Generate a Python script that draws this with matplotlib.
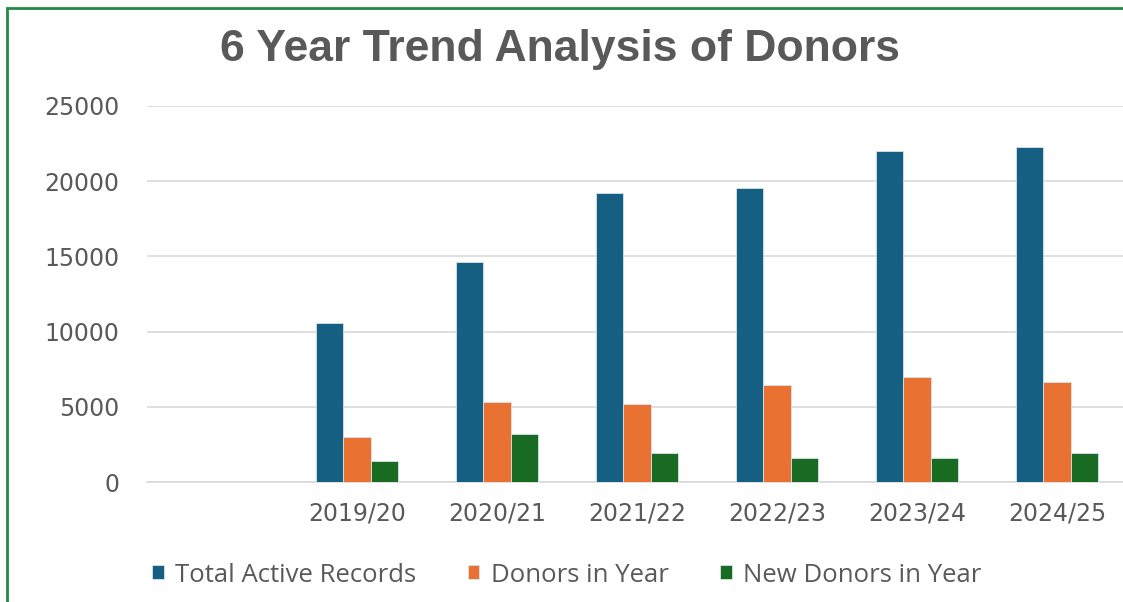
import matplotlib
matplotlib.use("Agg")
import matplotlib.pyplot as plt
from matplotlib.patches import Rectangle
import numpy as np

categories = ["", "2019/20", "2020/21", "2021/22", "2022/23", "2023/24", "2024/25"]
total_active = [0, 10560, 14610, 19240, 19570, 22040, 22290]
donors_in_year = [0, 2970, 5340, 5210, 6450, 6980, 6650]
new_donors = [0, 1375, 3190, 1950, 1575, 1575, 1930]
series_names = ["Total Active Records", "Donors in Year", "New Donors in Year"]
colors = ["#156082", "#E97132", "#196B24"]
yticks = [0, 5000, 10000, 15000, 20000, 25000]

W, H = 1123, 602
fig = plt.figure(figsize=(W / 100, H / 100), dpi=100)
fig.patch.set_facecolor("white")

# green frame (left and top edges visible)
fig.patches.append(Rectangle((7 / W, -0.05), 1.2, 1 - 8 / H + 0.05, transform=fig.transFigure,
                             fill=False, edgecolor="#1E8C45", linewidth=2, zorder=10))

ax = fig.add_axes([147 / W, (H - 482) / H, 980 / W, 376 / H])
x = np.arange(len(categories))
bw = 0.193
data = [total_active, donors_in_year, new_donors]
for i, (vals, c, n) in enumerate(zip(data, colors, series_names)):
    vals_plot = [v if v else np.nan for v in vals]
    ax.bar(x + (i - 1) * bw, vals_plot, width=bw, color=c, label=n,
           edgecolor="#d6e3ea", linewidth=0.6, zorder=3)

ax.set_xlim(-0.5, len(categories) - 0.5)
ax.set_ylim(0, 25000)
ax.set_yticks(yticks)
ax.set_yticklabels([str(t) for t in yticks])
ax.set_xticks(x)
ax.set_xticklabels(categories)
ax.yaxis.grid(True, color="#d9d9d9", linewidth=1.2, zorder=0)
ax.set_axisbelow(True)
for s in ["left", "right", "top"]:
    ax.spines[s].set_visible(False)
ax.spines["bottom"].set_color("#d9d9d9")
ax.spines["bottom"].set_linewidth(1.2)
ax.tick_params(axis="both", length=0, labelsize=17, labelcolor="#595959", colors="#595959")
ax.tick_params(axis="y", pad=20)
ax.tick_params(axis="x", pad=14)

fig.text(560 / W, 1 - 50 / H, "6 Year Trend Analysis of Donors", ha="center", va="center",
         fontsize=32, fontweight="bold", color="#595959", family="Liberation Sans")

handles, labels = ax.get_legend_handles_labels()
leg = fig.legend(handles, labels, loc="center", bbox_to_anchor=(567 / W, 1 - 575 / H), ncol=3,
                 frameon=False, handlelength=0.45, handleheight=0.45,
                 handletextpad=0.45, columnspacing=2.0,
                 prop={"family": "Open Sans", "size": 18.5})
for t in leg.get_texts():
    t.set_color("#595959")

fig.savefig("out.png", dpi=100, facecolor="white")
